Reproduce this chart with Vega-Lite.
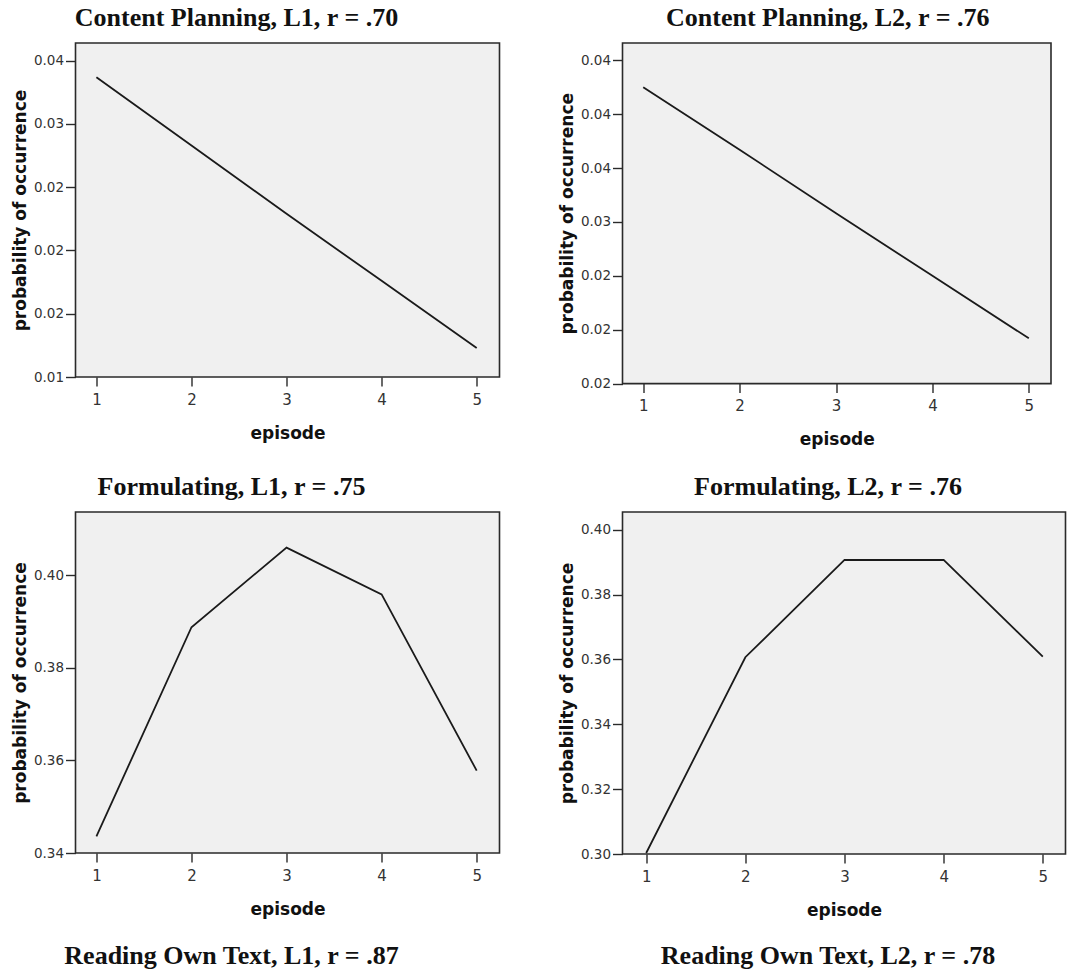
{
  "$schema": "https://vega.github.io/schema/vega-lite/v6.json",
  "padding": {"left": 10.5, "top": 4, "right": 0, "bottom": 0},
  "background": "#ffffff",
  "data": {"values": [
    {"panel": "CP_L1", "episode": 1, "probability": 0.0337},
    {"panel": "CP_L1", "episode": 2, "probability": 0.0283},
    {"panel": "CP_L1", "episode": 3, "probability": 0.0229},
    {"panel": "CP_L1", "episode": 4, "probability": 0.0176},
    {"panel": "CP_L1", "episode": 5, "probability": 0.0123},
    {"panel": "CP_L2", "episode": 1, "probability": 0.0425},
    {"panel": "CP_L2", "episode": 2, "probability": 0.0367},
    {"panel": "CP_L2", "episode": 3, "probability": 0.0308},
    {"panel": "CP_L2", "episode": 4, "probability": 0.0250},
    {"panel": "CP_L2", "episode": 5, "probability": 0.0192},
    {"panel": "F_L1", "episode": 1, "probability": 0.3436},
    {"panel": "F_L1", "episode": 2, "probability": 0.3888},
    {"panel": "F_L1", "episode": 3, "probability": 0.4060},
    {"panel": "F_L1", "episode": 4, "probability": 0.3959},
    {"panel": "F_L1", "episode": 5, "probability": 0.3578},
    {"panel": "F_L2", "episode": 1, "probability": 0.3003},
    {"panel": "F_L2", "episode": 2, "probability": 0.3607},
    {"panel": "F_L2", "episode": 3, "probability": 0.3907},
    {"panel": "F_L2", "episode": 4, "probability": 0.3907},
    {"panel": "F_L2", "episode": 5, "probability": 0.3609}
  ]},
  "columns": 2,
  "align": "each",
  "spacing": {"row": 24, "column": 57},
  "concat": [
    {
      "width": 424, "height": 334,
      "title": {"text": "Content Planning, L1, r = .70", "dx": -51},
      "transform": [{"filter": "datum.panel === 'CP_L1'"}],
      "mark": {"type": "line", "color": "#1a1a1a", "strokeWidth": 1.8},
      "encoding": {
        "x": {"field": "episode", "type": "quantitative", "scale": {"domain": [0.78, 5.24], "nice": false, "zero": false}, "axis": {"values": [1, 2, 3, 4, 5], "format": "d", "title": "episode", "tickSize": 9, "labelFontSize": 15, "labelPadding": 6, "titlePadding": 18}},
        "y": {"field": "probability", "type": "quantitative", "scale": {"domain": [0.01, 0.0364], "nice": false, "zero": false}, "axis": {"values": [0.01, 0.015, 0.02, 0.025, 0.03, 0.035], "labelExpr": "format((abs(datum.value*100 - floor(datum.value*100) - 0.5) < 0.001 ? floor(datum.value*100) + floor(datum.value*100) % 2 : round(datum.value*100)) / 100, '.2f')", "title": "probability of occurrence", "tickSize": 10, "labelFontSize": 13.5, "labelPadding": 2, "titlePadding": 4}}
      }
    },
    {
      "width": 428.5, "height": 340.6,
      "title": {"text": "Content Planning, L2, r = .76", "dx": -9},
      "transform": [{"filter": "datum.panel === 'CP_L2'"}],
      "mark": {"type": "line", "color": "#1a1a1a", "strokeWidth": 1.8},
      "encoding": {
        "x": {"field": "episode", "type": "quantitative", "scale": {"domain": [0.785, 5.23], "nice": false, "zero": false}, "axis": {"values": [1, 2, 3, 4, 5], "format": "d", "title": "episode", "tickSize": 9, "labelFontSize": 15, "labelPadding": 6, "titlePadding": 18}},
        "y": {"field": "probability", "type": "quantitative", "scale": {"domain": [0.015, 0.0466], "nice": false, "zero": false}, "axis": {"values": [0.015, 0.02, 0.025, 0.03, 0.035, 0.04, 0.045], "labelExpr": "format((abs(datum.value*100 - floor(datum.value*100) - 0.5) < 0.001 ? floor(datum.value*100) + floor(datum.value*100) % 2 : round(datum.value*100)) / 100, '.2f')", "title": "probability of occurrence", "tickSize": 10, "labelFontSize": 13.5, "labelPadding": 2, "titlePadding": 4}}
      }
    },
    {
      "width": 424, "height": 341,
      "title": {"text": "Formulating, L1, r = .75", "dx": -56},
      "transform": [{"filter": "datum.panel === 'F_L1'"}],
      "mark": {"type": "line", "color": "#1a1a1a", "strokeWidth": 1.8},
      "encoding": {
        "x": {"field": "episode", "type": "quantitative", "scale": {"domain": [0.78, 5.24], "nice": false, "zero": false}, "axis": {"values": [1, 2, 3, 4, 5], "format": "d", "title": "episode", "tickSize": 9, "labelFontSize": 15, "labelPadding": 6, "titlePadding": 18}},
        "y": {"field": "probability", "type": "quantitative", "scale": {"domain": [0.34, 0.4137], "nice": false, "zero": false}, "axis": {"values": [0.34, 0.36, 0.38, 0.40], "format": ".2f", "title": "probability of occurrence", "tickSize": 10, "labelFontSize": 13.5, "labelPadding": 2, "titlePadding": 4}}
      }
    },
    {
      "width": 443, "height": 342,
      "title": {"text": "Formulating, L2, r = .76", "dx": -16},
      "transform": [{"filter": "datum.panel === 'F_L2'"}],
      "mark": {"type": "line", "color": "#1a1a1a", "strokeWidth": 1.8},
      "encoding": {
        "x": {"field": "episode", "type": "quantitative", "scale": {"domain": [0.761, 5.229], "nice": false, "zero": false}, "axis": {"values": [1, 2, 3, 4, 5], "format": "d", "title": "episode", "tickSize": 9, "labelFontSize": 15, "labelPadding": 6, "titlePadding": 18}},
        "y": {"field": "probability", "type": "quantitative", "scale": {"domain": [0.30, 0.4055], "nice": false, "zero": false}, "axis": {"values": [0.30, 0.32, 0.34, 0.36, 0.38, 0.40], "format": ".2f", "title": "probability of occurrence", "tickSize": 10, "labelFontSize": 13.5, "labelPadding": 2, "titlePadding": 4}}
      }
    },
    {
      "width": 424, "height": 1,
      "title": {"text": "Reading Own Text, L1, r = .87", "dx": -56, "offset": 2},
      "view": {"stroke": null, "fill": null},
      "transform": [{"filter": "false"}],
      "mark": "point",
      "encoding": {}
    },
    {
      "width": 443, "height": 1,
      "title": {"text": "Reading Own Text, L2, r = .78", "dx": -16, "offset": 2},
      "view": {"stroke": null, "fill": null},
      "transform": [{"filter": "false"}],
      "mark": "point",
      "encoding": {}
    }
  ],
  "config": {
    "view": {"fill": "#f0f0f0", "stroke": "#2a2a2a", "strokeWidth": 1.6},
    "axis": {"domain": false, "grid": false, "tickColor": "#2a2a2a", "tickWidth": 1.4, "labelFont": "DejaVu Sans", "labelColor": "#333333", "labelFlush": false, "titleFont": "DejaVu Sans", "titleFontWeight": "bold", "titleFontSize": 17, "titleColor": "#111111"},
    "title": {"font": "Liberation Serif", "fontSize": 26, "fontWeight": "bold", "color": "#111111", "frame": "group", "anchor": "middle", "offset": 12}
  }
}
